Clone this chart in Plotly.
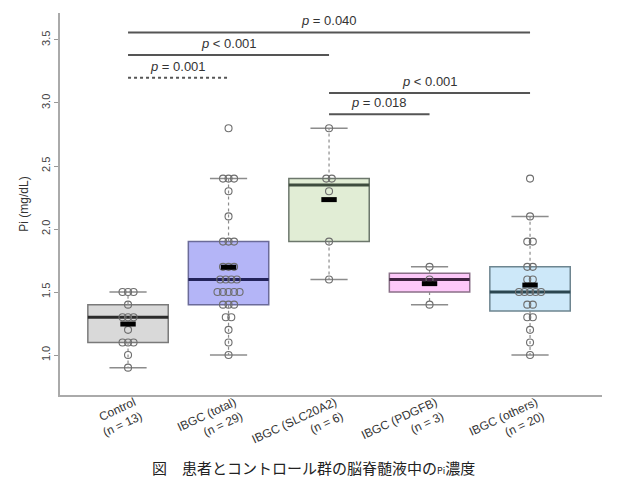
import numpy as np
import plotly.graph_objects as go

# ---------------- data ----------------
groups = ["Control", "IBGC (total)", "IBGC (SLC20A2)", "IBGC (PDGFB)", "IBGC (others)"]
group_n = [13, 29, 6, 3, 20]
tick_labels = [f"{g}<br>(n = {n})" for g, n in zip(groups, group_n)]

control = [1.5, 1.5, 1.5, 1.4, 1.3, 1.3, 1.3, 1.2, 1.1, 1.1, 1.1, 1.0, 0.9]
ibgc_total = [2.8, 2.4, 2.4, 2.4, 2.3, 2.1, 1.9, 1.9, 1.9, 1.7, 1.7, 1.7,
              1.6, 1.6, 1.6, 1.6, 1.5, 1.5, 1.5, 1.5, 1.5, 1.4, 1.4, 1.4,
              1.3, 1.3, 1.2, 1.1, 1.0]
ibgc_slc20a2 = [2.8, 2.4, 2.4, 2.3, 1.9, 1.6]
ibgc_pdgfb = [1.7, 1.6, 1.4]
ibgc_others = [2.4, 2.1, 1.9, 1.9, 1.7, 1.7, 1.6, 1.6, 1.5, 1.5, 1.5, 1.5,
               1.5, 1.4, 1.4, 1.3, 1.3, 1.2, 1.1, 1.0]
series = [control, ibgc_total, ibgc_slc20a2, ibgc_pdgfb, ibgc_others]

# comparisons: (group a index, group b index) and their p labels
comp_pairs = [(0, 4), (0, 2), (0, 1), (2, 4), (2, 3)]
comp_labels = ["<i>p</i> = 0.040", "<i>p</i> < 0.001", "<i>p</i> = 0.001",
               "<i>p</i> < 0.001", "<i>p</i> = 0.018"]
y_ticks = [1.0, 1.5, 2.0, 2.5, 3.0, 3.5]

caption = "図　患者とコントロール群の脳脊髄液中の<span style='font-size:9px'>Pi</span>濃度"

# ---------------- styles ----------------
fills = ["#d9d9d9", "#b4b5f7", "#e1edd5", "#fdc8f9", "#cde8f9"]
borders = ["#7a7a7a", "#6b6b99", "#6c776c", "#8a6f88", "#6d8590"]
med_colors = ["#2a2a2a", "#23235a", "#3e4c3e", "#3f2340", "#2b4650"]
comp_levels = [3.56, 3.38, 3.20, 3.08, 2.91]
comp_dash = ["solid", "solid", "dot", "solid", "solid"]
font_fam = "Liberation Sans, Arial, sans-serif"


def fivenum(v):
    x = np.sort(np.asarray(v, dtype=float))
    n = len(x)
    n4 = np.floor((n + 3) / 2) / 2
    d = np.array([1, n4, (n + 1) / 2, n + 1 - n4, n]) - 1
    return 0.5 * (x[np.floor(d).astype(int)] + x[np.ceil(d).astype(int)])


fig = go.Figure()
pos = np.arange(1, len(groups) + 1)
box_half = 0.4
cap_half = 0.185
spacing = 0.055

wx, wy, cx, cy = [], [], [], []
for i, vals in enumerate(series):
    p = pos[i]
    mn, q1, med, q3, mx = fivenum(vals)
    iqr = q3 - q1
    arr = np.asarray(vals)
    lo = arr[arr >= q1 - 1.5 * iqr].min()
    hi = arr[arr <= q3 + 1.5 * iqr].max()
    fig.add_trace(go.Box(
        x=[p], q1=[q1], median=[med], q3=[q3], lowerfence=[q1], upperfence=[q3],
        width=2 * box_half, whiskerwidth=0, fillcolor=fills[i],
        line=dict(color=borders[i], width=1.5), boxpoints=False,
        hoverinfo="skip", showlegend=False))
    wx += [p, p, None, p, p, None]
    wy += [q1, lo, None, q3, hi, None]
    cx += [p - cap_half, p + cap_half, None, p - cap_half, p + cap_half, None]
    cy += [lo, lo, None, hi, hi, None]
    fig.add_trace(go.Scatter(x=[p - box_half, p + box_half], y=[med, med], mode="lines",
                             line=dict(color=med_colors[i], width=3),
                             showlegend=False, hoverinfo="skip"))

fig.add_trace(go.Scatter(x=wx, y=wy, mode="lines",
                         line=dict(color="#8c8c8c", width=1.2, dash="dot"),
                         showlegend=False, hoverinfo="skip"))
fig.add_trace(go.Scatter(x=cx, y=cy, mode="lines",
                         line=dict(color="#8c8c8c", width=1.5),
                         showlegend=False, hoverinfo="skip"))

# points stacked horizontally when values repeat
px, py = [], []
for i, vals in enumerate(series):
    uniq, counts = np.unique(np.round(vals, 3), return_counts=True)
    for u, c in zip(uniq, counts):
        for k in range(c):
            px.append(pos[i] + (k - (c - 1) / 2) * spacing)
            py.append(u)
fig.add_trace(go.Scatter(x=px, y=py, mode="markers",
                         marker=dict(symbol="circle-open", size=7, color="#6e6e6e",
                                     line=dict(width=1.1)),
                         showlegend=False, hoverinfo="skip"))

# means
means = [float(np.mean(v)) for v in series]
fig.add_trace(go.Scatter(x=pos, y=means, mode="markers",
                         marker=dict(symbol="line-ew", size=11, color="#000000",
                                     line=dict(color="#000000", width=5)),
                         showlegend=False, hoverinfo="skip"))

# comparison bars
for (a, b), lab, lev, dsh in zip(comp_pairs, comp_labels, comp_levels, comp_dash):
    fig.add_trace(go.Scatter(x=[pos[a], pos[b]], y=[lev, lev], mode="lines",
                             line=dict(color="#555555", width=2, dash=dsh),
                             showlegend=False, hoverinfo="skip"))
    fig.add_annotation(x=(pos[a] + pos[b]) / 2, y=lev, text=lab, showarrow=False,
                       yanchor="bottom", yshift=2,
                       font=dict(size=13, color="#333333", family=font_fam))

fig.add_annotation(xref="paper", yref="paper", x=0.467, y=-0.19, text=caption,
                   showarrow=False, xanchor="center", yanchor="middle",
                   font=dict(size=15, color="#222222", family="Noto Sans CJK JP"))

# page body has an 8px default margin; size the figure to fit the 620x483 window
fig.update_layout(
    width=612, height=475,
    margin=dict(l=52, r=18, t=5, b=88),
    paper_bgcolor="white", plot_bgcolor="white",
    font=dict(family=font_fam, color="#333333"),
    showlegend=False,
    xaxis=dict(range=[0.323, 5.716], tickvals=list(pos), ticktext=tick_labels,
               tickangle=-25, showgrid=False, zeroline=False, showline=True,
               linecolor="#aaaaaa", linewidth=2, ticks="",
               ticklabelstandoff=-6, ticklabelshift=6,
               tickfont=dict(size=12, color="#333333")),
    yaxis=dict(range=[0.683, 3.714], tickvals=y_ticks,
               ticktext=[f"{t:.1f}" for t in y_ticks], tickangle=-90,
               showgrid=False, zeroline=False, showline=True,
               linecolor="#aaaaaa", linewidth=2, ticks="outside", ticklen=4,
               tickcolor="#999999", tickfont=dict(size=11, color="#444444"),
               title=dict(text="Pi (mg/dL)", font=dict(size=12, color="#333333"),
                          standoff=8)),
)

fig.write_html("out.html")
